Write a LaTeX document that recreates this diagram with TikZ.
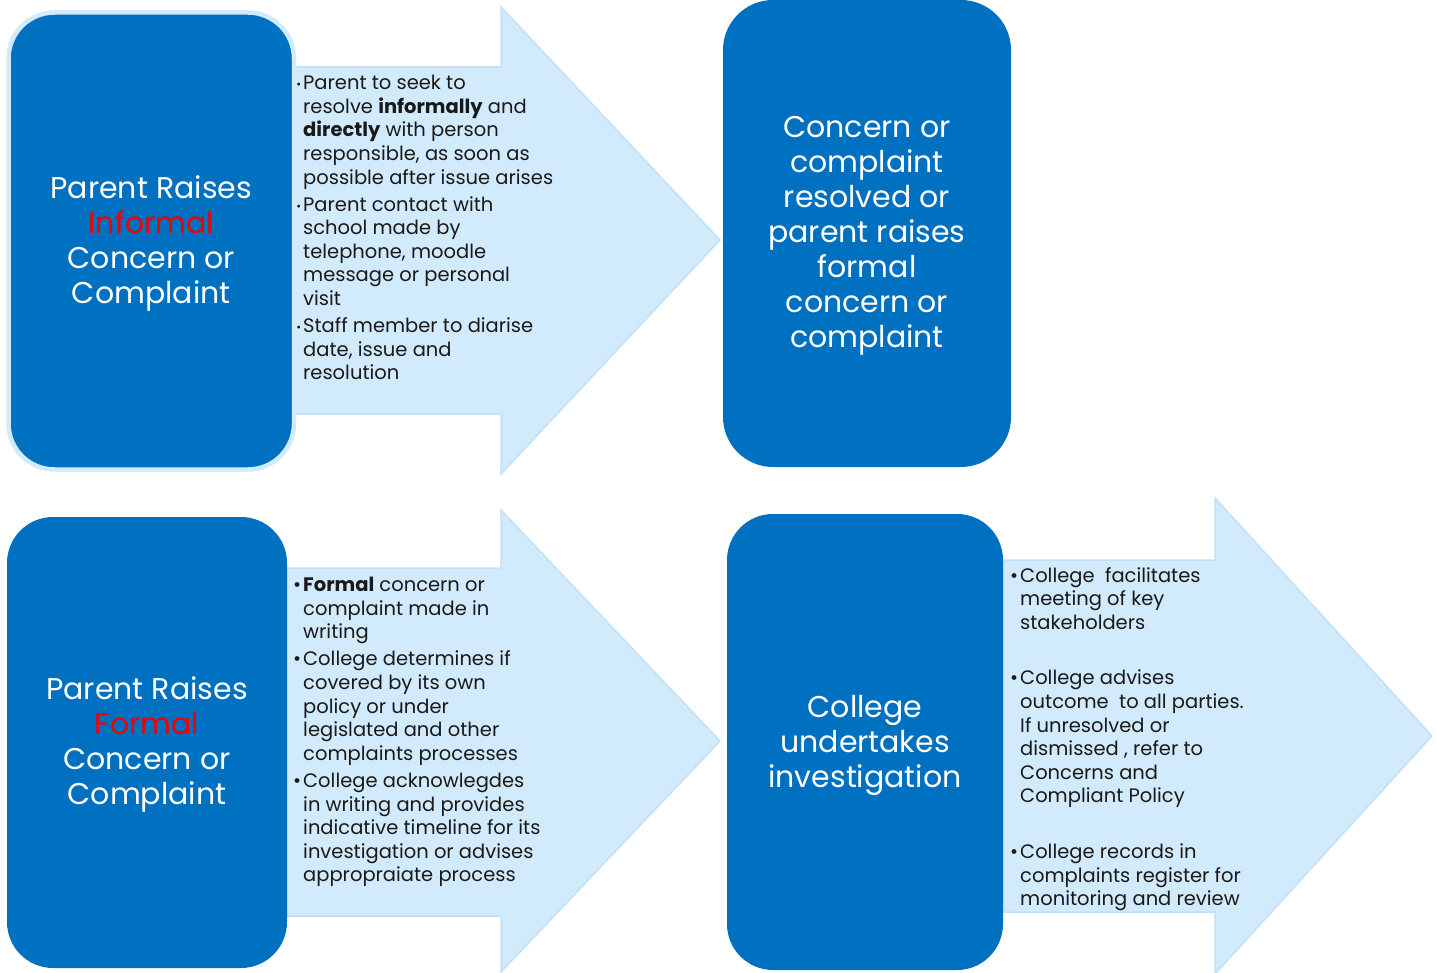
\documentclass[tikz,border=0pt]{standalone}
\usepackage{fontspec}
\setmainfont{Poppins}
\usepackage{tikz}
\usetikzlibrary{backgrounds}
\definecolor{stageblue}{HTML}{0070C0}
\definecolor{arrowfill}{HTML}{D2EBFC}
\definecolor{arrowedge}{HTML}{C2E0F7}
\definecolor{flagred}{HTML}{F00000}
% hanging bullets, the text keeps its left edge
\newcommand{\bl}{\llap{\textbullet\hspace{2pt}}}
\newcommand{\sbl}{\llap{\raisebox{1pt}{\scalebox{0.6}{\textbullet}}\hspace{2pt}}}

\begin{document}
\begin{tikzpicture}[x=1pt,y=-1pt,
  stagebox/.style={fill=stageblue, rounded corners=46pt, inner sep=0pt, outer sep=0pt},
  stagelabel/.style={text=white, align=center, inner sep=0pt, font=\fontsize{30}{35}\selectfont},
  bigarrow/.style={fill=arrowfill, draw=arrowedge, line width=1.5pt},
  steptext/.style={anchor=north west, align=left, inner sep=0pt, text=black!90,
    font=\fontsize{19.5}{23.6}\selectfont}]
\useasboundingbox (0,0) rectangle (1437,973);

% arrows go first, the boxes sit on their tails
\draw[bigarrow] (285,67) -- (501,67) -- (501,7) -- (720,240) -- (501,474) -- (501,414) -- (285,414) -- cycle;
\draw[bigarrow] (280,568) -- (501,568) -- (501,510) -- (720,741) -- (501,972) -- (501,916) -- (280,916) -- cycle;
\draw[bigarrow] (1000,560) -- (1215,560) -- (1215,498) -- (1432,736) -- (1215,974) -- (1215,912) -- (1000,912) -- cycle;

% stage boxes
\node[stagebox, draw=arrowfill, line width=4.5pt, minimum width=285.5pt, minimum height=457pt]
  (informal) at (151.25,241) {};
\node[stagebox, minimum width=288pt, minimum height=467pt, rounded corners=50pt]
  (outcome) at (867,233.5) {};
\node[stagebox, minimum width=280pt, minimum height=451pt]
  (formal) at (147,742.5) {};
\node[stagebox, minimum width=276pt, minimum height=456pt]
  (investigate) at (865,742) {};

\node[stagelabel] (informaltitle) at ([yshift=-2pt]informal.center)
  {Parent Raises\\ \textcolor{flagred}{Informal}\\ Concern or\\ Complaint};
\node[stagelabel] (outcometitle) at ([yshift=-2pt]outcome.center)
  {Concern or\\ complaint\\ resolved or\\ parent raises\\ formal\\ concern or\\ complaint};
\node[stagelabel] (formaltitle) at ([yshift=-2pt]formal.center)
  {Parent Raises\\ \textcolor{flagred}{Formal}\\ Concern or\\ Complaint};
\node[stagelabel] (investigatetitle) at ([yshift=-3pt]investigate.center)
  {College\\ undertakes\\ investigation};

% what happens at each step
\node[steptext] (informalsteps) at (303,75) {%
  \sbl Parent to seek to\\ resolve \textbf{informally} and\\ \textbf{directly} with person\\
  responsible, as soon as\\ possible after issue arises\\[3.5pt]
  \sbl Parent contact with\\ school made by\\ telephone, moodle\\ message or personal\\ visit\\[3.5pt]
  \sbl Staff member to diarise\\ date, issue and\\ resolution};
\node[steptext] (formalsteps) at (303,577) {%
  \bl\textbf{Formal} concern or\\ complaint made in\\ writing\\[3.5pt]
  \bl College determines if\\ covered by its own\\ policy or under\\ legislated and other\\ complaints processes\\[3.5pt]
  \bl College acknowlegdes\\ in writing and provides\\ indicative timeline for its\\ investigation or advises\\ appropraiate process};
\node[steptext] (collegesteps) at (1020,567) {%
  \bl College\ \ facilitates\\ meeting of key\\ stakeholders\\[32pt]
  \bl College advises\\ outcome\ \ to all parties.\\ If unresolved or\\ dismissed , refer to\\ Concerns and\\ Compliant Policy\\[32pt]
  \bl College records in\\ complaints register for\\ monitoring and review};
\end{tikzpicture}
\end{document}
